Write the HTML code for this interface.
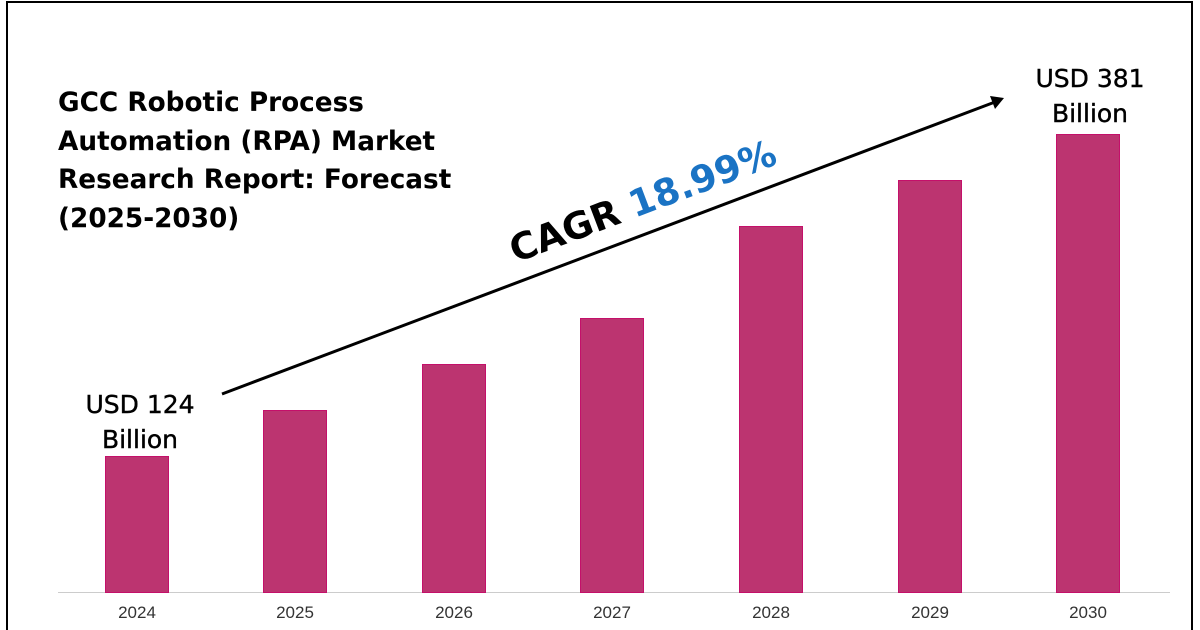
<!DOCTYPE html><html style="overflow:hidden;height:630px"><head><style>
body{margin:0;width:1200px;height:630px;background:#fff;position:relative;overflow:hidden;font-family:"DejaVu Sans","Liberation Sans",sans-serif}
.b{position:absolute;background:#bc3470;border:1px solid #c4106a;box-sizing:border-box;width:64px}
.y{position:absolute;top:602px;width:100px;height:22px;line-height:22px;text-align:center;font-size:17px;color:#333;font-family:"Liberation Sans",sans-serif}
.t{position:absolute;font-weight:bold;color:#000}
</style></head><body>
<svg style="position:absolute;left:0;top:0" width="1200" height="630"><path d="M7 630 V2 H1192 V630" fill="none" stroke="#000" stroke-width="2"/></svg>
<div style="position:absolute;left:58px;top:592px;width:1112px;height:1px;background:#ccc"></div>
<div class="b" style="left:105px;top:456px;height:137px"></div>
<div class="b" style="left:263px;top:410px;height:183px"></div>
<div class="b" style="left:422px;top:364px;height:229px"></div>
<div class="b" style="left:580px;top:318px;height:275px"></div>
<div class="b" style="left:739px;top:226px;height:367px"></div>
<div class="b" style="left:898px;top:180px;height:413px"></div>
<div class="b" style="left:1056px;top:134px;height:459px"></div>
<div class="y" style="left:87px">2024</div><div class="y" style="left:245px">2025</div><div class="y" style="left:404px">2026</div><div class="y" style="left:562px">2027</div><div class="y" style="left:721px">2028</div><div class="y" style="left:880px">2029</div><div class="y" style="left:1038px">2030</div>
<div class="t" style="left:58px;top:84px;font-size:26.3px;line-height:38.5px">GCC Robotic Process<br>Automation (RPA) Market<br>Research Report: Forecast<br>(2025-2030)</div>
<div class="t" style="left:60px;top:387px;width:160px;text-align:center;font-size:25px;line-height:35px;font-weight:normal;-webkit-text-stroke:0.4px #000">USD 124<br>Billion</div>
<div class="t" style="left:1010px;top:61px;width:160px;text-align:center;font-size:25px;line-height:35px;font-weight:normal;-webkit-text-stroke:0.4px #000">USD 381<br>Billion</div>
<svg style="position:absolute;left:0;top:0" width="1200" height="630"><line x1="222" y1="394" x2="995" y2="102" stroke="#000" stroke-width="3"/><polygon points="1004,98 990,96 995,109" fill="#000"/></svg>
<div class="t" style="left:502px;top:180px;font-size:37px;transform:rotate(-20.7deg);transform-origin:center;white-space:nowrap">CAGR <span style="color:#1a73c4">18.99%</span></div>
</body></html>
